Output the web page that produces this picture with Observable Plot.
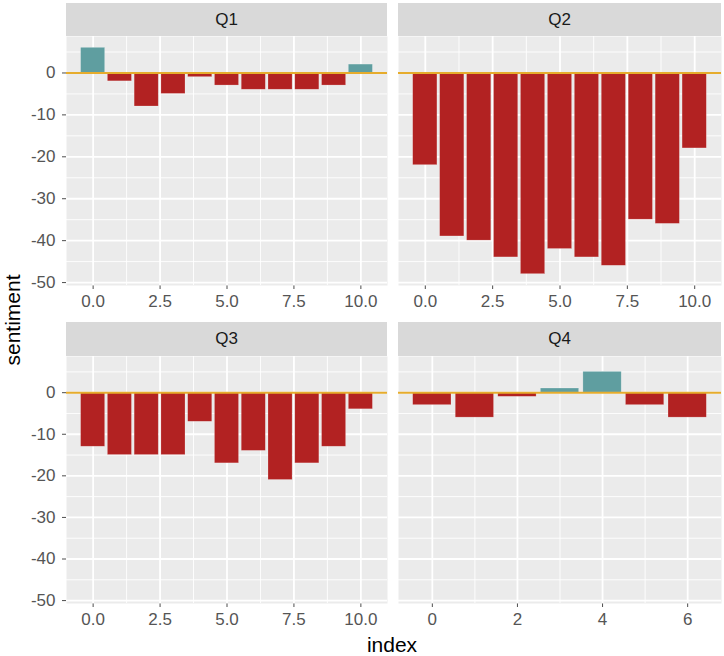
<!DOCTYPE html>
<html>
<head>
<meta charset="utf-8">
<script src="https://cdn.jsdelivr.net/npm/d3@7"></script>
<script src="https://cdn.jsdelivr.net/npm/@observablehq/plot@0.6"></script>
<style>
  html, body { margin: 0; padding: 0; background: #ffffff; }
  #chart { position: relative; width: 724px; height: 656px; font-family: "Liberation Sans", Arial, sans-serif; }
  #chart svg text { font-size: 17px; fill: #555555; }
  .strip { position: absolute; background: #D9D9D9; color: #1A1A1A; font-size: 17px; display: flex; align-items: center; justify-content: center; }
  .panel { position: absolute; }
  .title { position: absolute; color: #000; font-size: 21px; white-space: nowrap; }
</style>
</head>
<body>
<div id="chart"></div>
<script>
// ---- data ----
const quarters = ["Q1", "Q2", "Q3", "Q4"];
const q1Sentiment = [6, -2, -8, -5, -1, -3, -4, -4, -4, -3, 2];
const q2Sentiment = [-22, -39, -40, -44, -48, -42, -44, -46, -35, -36, -18];
const q3Sentiment = [-13, -15, -15, -15, -7, -17, -14, -21, -17, -13, -4];
const q4Sentiment = [-3, -6, -1, 1, 5, -3, -6];

const yTicks = [0, -10, -20, -30, -40, -50];
const yMinorTicks = [5, -5, -15, -25, -35, -45];
const xTicksLong = [0, 2.5, 5, 7.5, 10];
const xMinorLong = [1.25, 3.75, 6.25, 8.75];
const xTicksShort = [0, 2, 4, 6];
const xMinorShort = [1, 3, 5];

const posColor = "#5F9EA0";
const negColor = "#B22222";
const zeroColor = "#E6AC2C";

const yDomain = [-50.7, 8.7];

function panel(values, opts) {
  const data = values.map((v, i) => ({index: i, sentiment: v}));
  const n = values.length;
  const pad = (n - 1 + 0.9) * 0.05;
  const xDomain = [-0.45 - pad, n - 1 + 0.45 + pad];
  return Plot.plot({
    width: opts.width,
    height: opts.height,
    marginLeft: opts.showY ? 66 : 0,
    marginRight: 0,
    marginTop: 0,
    marginBottom: 36,
    style: {
      fontFamily: "'Liberation Sans', Arial, sans-serif",
      fontSize: "17px",
      color: "#4D4D4D",
      background: "transparent",
      overflow: "visible"
    },
    x: {
      domain: xDomain,
      ticks: opts.xTicks,
      tickFormat: opts.xFormat,
      tickSize: 4,
      tickPadding: 5,
      label: null
    },
    y: {
      domain: yDomain,
      ticks: yTicks,
      tickFormat: d => String(d),
      tickSize: 4,
      tickPadding: 7,
      label: null,
      axis: opts.showY ? "left" : null
    },
    marks: [
      Plot.frame({fill: "#EBEBEB", stroke: "none"}),
      Plot.ruleY(yMinorTicks, {stroke: "#ffffff", strokeWidth: 0.9}),
      Plot.ruleX(opts.xMinor, {stroke: "#ffffff", strokeWidth: 0.9}),
      Plot.ruleY(yTicks, {stroke: "#ffffff", strokeWidth: 1.8}),
      Plot.ruleX(opts.xTicks, {stroke: "#ffffff", strokeWidth: 1.8}),
      Plot.rectY(data, {
        x1: d => d.index - 0.45,
        x2: d => d.index + 0.45,
        y: "sentiment",
        fill: d => d.sentiment > 0 ? posColor : negColor,
        stroke: "#ffffff",
        strokeOpacity: 0.35,
        strokeWidth: 0.6
      }),
      Plot.ruleY([0], {stroke: zeroColor, strokeWidth: 2})
    ]
  });
}

const chart = document.getElementById("chart");
const fmt1 = d3.format(".1f");
const fmt0 = d3.format("d");

const layout = [
  {name: quarters[0], values: q1Sentiment, left: 0, plotLeft: 66, top: 36, stripTop: 3, w: 387, h: 249, showY: true, xTicks: xTicksLong, xMinor: xMinorLong, xFormat: fmt1},
  {name: quarters[1], values: q2Sentiment, left: 398, plotLeft: 398, top: 36, stripTop: 3, w: 323, h: 249, showY: false, xTicks: xTicksLong, xMinor: xMinorLong, xFormat: fmt1},
  {name: quarters[2], values: q3Sentiment, left: 0, plotLeft: 66, top: 356, stripTop: 322, w: 387, h: 247, showY: true, xTicks: xTicksLong, xMinor: xMinorLong, xFormat: fmt1},
  {name: quarters[3], values: q4Sentiment, left: 398, plotLeft: 398, top: 356, stripTop: 322, w: 323, h: 247, showY: false, xTicks: xTicksShort, xMinor: xMinorShort, xFormat: fmt0}
];

for (const p of layout) {
  const strip = document.createElement("div");
  strip.className = "strip";
  strip.style.left = p.plotLeft + "px";
  strip.style.top = p.stripTop + "px";
  strip.style.width = (p.showY ? p.w - 66 : p.w) + "px";
  strip.style.height = (p.top - p.stripTop) + "px";
  strip.textContent = p.name;
  chart.appendChild(strip);

  const div = document.createElement("div");
  div.className = "panel";
  div.style.left = p.left + "px";
  div.style.top = p.top + "px";
  div.appendChild(panel(p.values, {
    width: p.w, height: p.h + 36, showY: p.showY,
    xTicks: p.xTicks, xMinor: p.xMinor, xFormat: p.xFormat
  }));
  chart.appendChild(div);
}

const xt = document.createElement("div");
xt.className = "title";
xt.textContent = "index";
xt.style.left = "392px";
xt.style.top = "633px";
xt.style.transform = "translateX(-50%)";
chart.appendChild(xt);

const yt = document.createElement("div");
yt.className = "title";
yt.textContent = "sentiment";
yt.style.left = "13px";
yt.style.top = "320px";
yt.style.transform = "translate(-50%, -50%) rotate(-90deg)";
chart.appendChild(yt);
</script>
</body>
</html>
